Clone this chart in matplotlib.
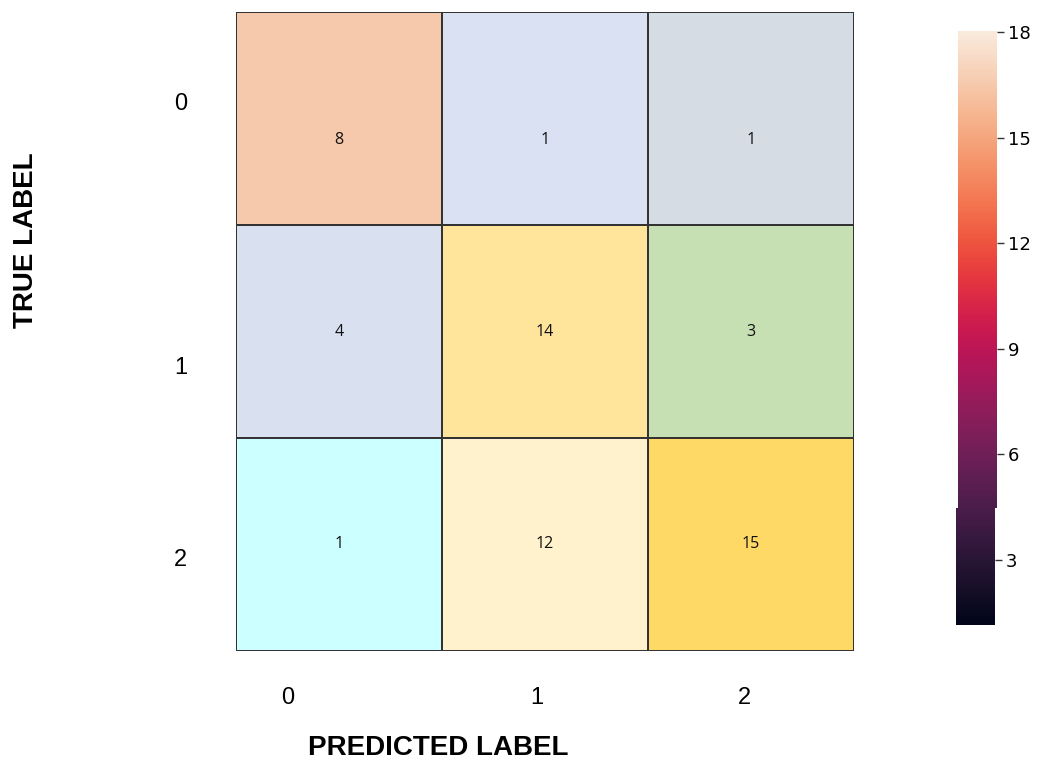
import numpy as np
import matplotlib
matplotlib.use('Agg')
import matplotlib.pyplot as plt
from matplotlib.colors import ListedColormap, Normalize
import seaborn as sns

# confusion matrix counts (rows: true, cols: predicted)
counts = [[8, 1, 1],
          [4, 14, 3],
          [1, 12, 15]]
cell_colors = [['#F7C9AC', '#D9E1F2', '#D6DCE4'],
               ['#D9E0F0', '#FFE49C', '#C6E0B4'],
               ['#CCFFFF', '#FFF2CC', '#FFD966']]
class_names = ['0', '1', '2']

# colour bar range and ticks
cbar_lo, cbar_hi = 1.15, 18.03
cbar_split = 4.48
cbar_ticks = [3, 6, 9, 12, 15, 18]

W, H = 1040, 765
fig = plt.figure(figsize=(W / 100, H / 100), dpi=100)


def px_axes(x0, y0, x1, y1):
    return fig.add_axes([x0 / W, 1 - y1 / H, (x1 - x0) / W, (y1 - y0) / H])


ax = px_axes(236, 12, 854, 651)
n = len(class_names)
flat_colors = [c for row in cell_colors for c in row]
idx = np.arange(n * n).reshape(n, n)
ax.pcolormesh(idx, cmap=ListedColormap(flat_colors), vmin=-0.5, vmax=n * n - 0.5,
              edgecolors='#333333', linewidth=1.3)
ax.set_xlim(0, n)
ax.set_ylim(n, 0)
for i in range(n):
    for j in range(n):
        ax.text(j + 0.5, i + 0.5 + (0.1 if i == 0 else 0), str(counts[i][j]),
                ha='center', va='center', fontsize=11.5, color='#111111',
                family='Open Sans')
for s in ax.spines.values():
    s.set_visible(False)

# tick labels sit a little off the cell centres
ax.set_xticks([0.25, 1.46, 2.47])
ax.set_xticklabels(class_names, family='Liberation Sans', fontsize=17)
ax.set_yticks([0.42, 1.66, 2.56])
ax.set_yticklabels(class_names, family='Liberation Sans', fontsize=17,
                   ha='center')
ax.tick_params(length=0, pad=26)
ax.tick_params(axis='y', pad=40)

fig.text(438 / W, 1 - 748 / H, 'PREDICTED LABEL', ha='center', va='center',
         fontsize=20, fontweight='bold', family='Liberation Sans')
fig.text(26 / W, 1 - 240 / H, 'TRUE LABEL', ha='center', va='center',
         rotation=90, fontsize=20, fontweight='bold', family='Liberation Sans')

# colour bar drawn in two pieces
rocket = sns.color_palette('rocket', as_cmap=True)
norm = Normalize(vmin=cbar_lo, vmax=cbar_hi)


def cbar_piece(box, lo, hi):
    cax = px_axes(*box)
    vals = np.linspace(lo, hi, 300).reshape(-1, 1)
    cax.imshow(vals, cmap=rocket, norm=norm, aspect='auto', origin='lower',
               extent=(0, 1, lo, hi))
    cax.set_ylim(lo, hi)
    cax.set_xticks([])
    cax.yaxis.tick_right()
    cax.set_yticks([t for t in cbar_ticks if lo <= t <= hi])
    cax.tick_params(axis='y', length=5, width=1, color='#333333',
                    labelsize=13, pad=3)
    for s in cax.spines.values():
        s.set_visible(False)
    return cax


cbar_piece((958, 31, 997, 508), cbar_split, cbar_hi)
cbar_piece((956, 508, 995, 625), cbar_lo, cbar_split)

fig.savefig('out.png', dpi=100)
